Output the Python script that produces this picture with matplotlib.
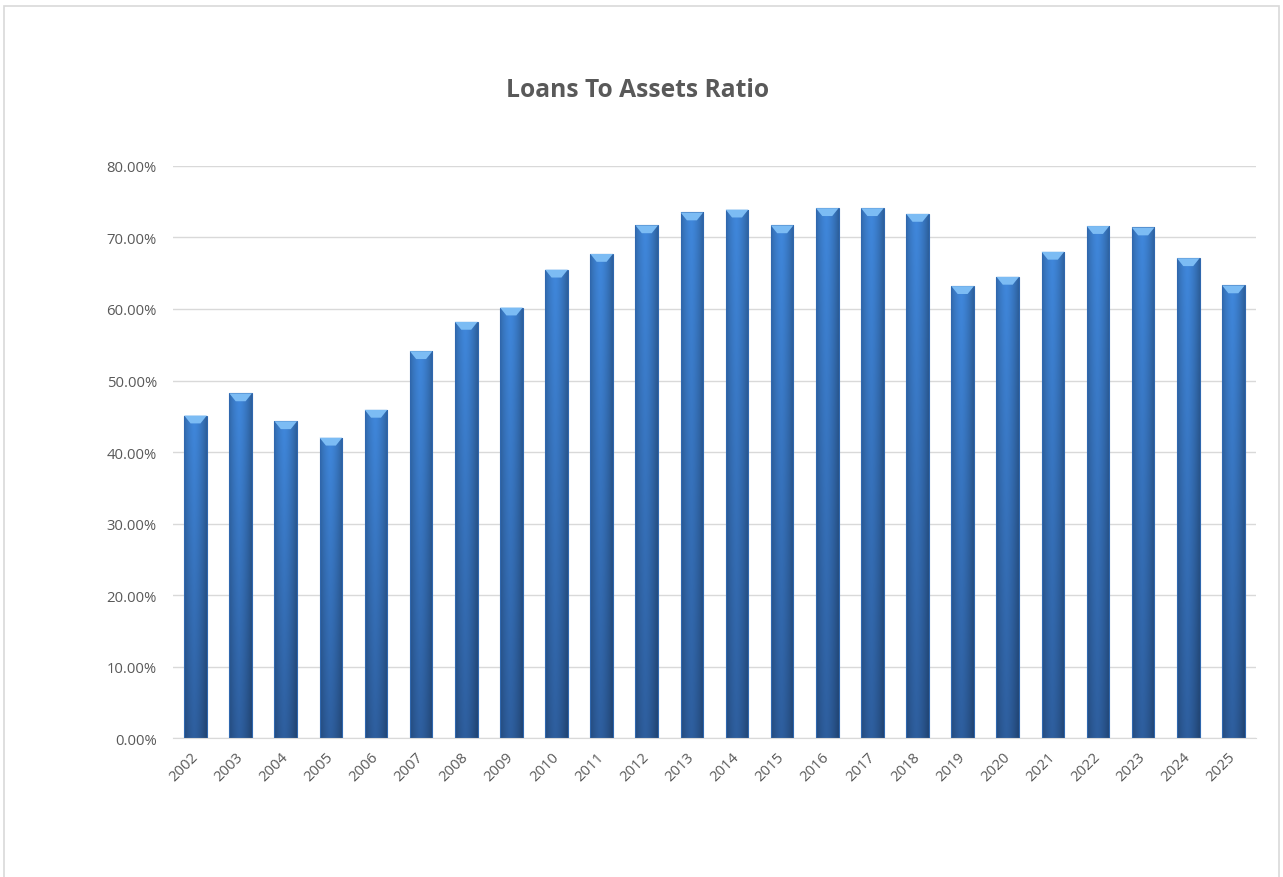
import matplotlib.pyplot as plt
import numpy as np
from matplotlib.patches import Polygon, Rectangle
from matplotlib.ticker import FuncFormatter

years = [str(y) for y in range(2002, 2026)]
ratios = [0.451, 0.482, 0.443, 0.420, 0.459, 0.541, 0.582, 0.602, 0.655, 0.677,
          0.717, 0.735, 0.739, 0.717, 0.741, 0.741, 0.733, 0.632, 0.645, 0.680,
          0.716, 0.714, 0.671, 0.633]
y_ticks = [0.0, 0.1, 0.2, 0.3, 0.4, 0.5, 0.6, 0.7, 0.8]

plt.rcParams['font.family'] = ['Open Sans', 'DejaVu Sans']
text_color = '#595959'

fig = plt.figure(figsize=(12.83, 8.78), dpi=100)
ax = fig.add_axes([0.1348, 0.1583, 0.8441, 0.6515])

# chart border
fig.patches.append(Rectangle((0.003, -0.05), 0.994, 1.042, transform=fig.transFigure,
                             fill=False, edgecolor='#D9D9D9', linewidth=1.2))

x = np.arange(len(years))
bars = ax.bar(x, ratios, width=0.5, facecolor='none', edgecolor='#2F67AE',
              linewidth=0.8, zorder=3)

# gradient fill for each bar (darker edges, darker toward the bottom)
h = np.linspace(0, 1, 50)
edge_shade = 1 - 0.35 * np.abs(h - 0.45) ** 1.5 * 2
v = np.linspace(0, 1, 100)[:, None]
top_col = np.array([0.25, 0.53, 0.86])
bot_col = np.array([0.18, 0.37, 0.62])
base = (top_col * (1 - v[..., None]) + bot_col * v[..., None])
grad = np.clip(base * edge_shade[None, :, None], 0, 1)

for b in bars:
    x0, w, top = b.get_x(), b.get_width(), b.get_height()
    im = ax.imshow(grad, extent=(x0, x0 + w, 0, top), aspect='auto',
                   origin='upper', zorder=2, interpolation='bilinear')
    im.set_clip_path(b)
    bev = 0.011
    ax.add_patch(Polygon([(x0, top), (x0 + w, top), (x0 + w * 0.72, top - bev),
                          (x0 + w * 0.28, top - bev)], closed=True,
                         facecolor='#7CBCF4', edgecolor='none', zorder=4))

ax.set_xlim(-0.5, len(years) - 0.5)
ax.set_ylim(0, 0.8)
ax.set_yticks(y_ticks)
ax.yaxis.set_major_formatter(FuncFormatter(lambda val, pos: f"{val * 100:.2f}%"))
ax.set_xticks(x)
ax.set_xticklabels(years, rotation=45, ha='right', va='center', rotation_mode='anchor')
ax.tick_params(axis='both', length=0, labelcolor=text_color, labelsize=10.7)
ax.tick_params(axis='x', pad=12)
ax.tick_params(axis='y', pad=11.5)

ax.grid(axis='y', color='#D9D9D9', linewidth=1, zorder=0)
ax.set_axisbelow(True)
for s in ['top', 'right', 'left']:
    ax.spines[s].set_visible(False)
ax.spines['bottom'].set_color('#D9D9D9')

fig.text(0.4973, 0.897, 'Loans To Assets Ratio', ha='center', va='center',
         fontsize=17.7, fontweight='bold', color=text_color)

fig.savefig('out.png', dpi=100)
